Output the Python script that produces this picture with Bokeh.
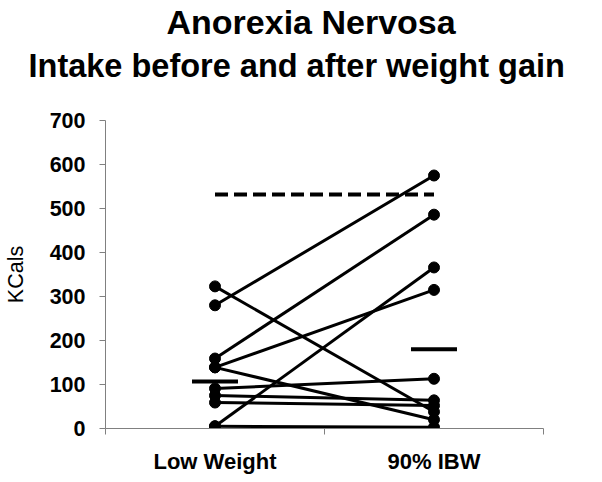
from bokeh.plotting import figure
from bokeh.models import Range1d, FixedTicker, Title
from bokeh.embed import file_html
from bokeh.resources import INLINE

# ---- data ----
categories = ["Low Weight", "90% IBW"]
low_weight = [280, 159, 5, 139, 323, 139, 91, 75, 59, 5]
ibw_90 = [575, 486, 366, 315, 38, 20, 113, 64, 52, 3]
group_means = [107, 180]
reference_intake = 532
y_ticks = [0, 100, 200, 300, 400, 500, 600, 700]
title_lines = ["Anorexia Nervosa", "Intake before and after weight gain"]

FONT = "Liberation Sans"
xpos = [i + 0.5 for i in range(len(categories))]

p = figure(
    frame_width=438, frame_height=308,
    x_range=Range1d(0, len(categories)), y_range=Range1d(0, 700),
    output_backend="svg", toolbar_location=None, title=None,
    min_border_left=105, min_border_right=43, min_border_top=0, min_border_bottom=44,
)
p.outline_line_color = None
p.grid.visible = False
p.background_fill_color = "white"
p.border_fill_color = "white"

# titles, stacked from the frame upward: spacer, line 2, line 1
spacer = Title(text=" ", text_font_size="1px", standoff=29)
t2 = Title(text=title_lines[1], align="left", offset=-77,
           text_font=FONT, text_font_size="32.5px", text_font_style="bold",
           text_color="black", standoff=10)
t1 = Title(text=title_lines[0], align="left", offset=61,
           text_font=FONT, text_font_size="34px", text_font_style="bold",
           text_color="black", standoff=0)
p.add_layout(spacer, "above")
p.add_layout(t2, "above")
p.add_layout(t1, "above")

# x axis
xa = p.xaxis[0]
xa.ticker = FixedTicker(ticks=xpos, minor_ticks=[float(i) for i in range(len(categories) + 1)])
xa.major_label_overrides = {x: c for x, c in zip(xpos, categories)}
xa.major_tick_out = 0
xa.major_tick_in = 0
xa.minor_tick_out = 6
xa.minor_tick_in = 0
xa.minor_tick_line_color = "#808080"
xa.axis_line_color = "#808080"
xa.major_label_text_font = FONT
xa.major_label_text_font_size = "22px"
xa.major_label_text_font_style = "bold"
xa.major_label_text_color = "black"
xa.major_label_standoff = 14

# y axis
ya = p.yaxis[0]
ya.ticker = FixedTicker(ticks=y_ticks, minor_ticks=[])
ya.major_tick_out = 6
ya.major_tick_in = 0
ya.major_tick_line_color = "#808080"
ya.axis_line_color = "#808080"
ya.major_label_text_font = FONT
ya.major_label_text_font_size = "21.5px"
ya.major_label_text_font_style = "bold"
ya.major_label_text_color = "black"
ya.major_label_standoff = 14
ya.axis_label = "KCals"
ya.axis_label_text_font = FONT
ya.axis_label_text_font_size = "21.5px"
ya.axis_label_text_font_style = "normal"
ya.axis_label_text_color = "black"
ya.axis_label_standoff = 19

n = len(low_weight)
# reference dashed line
p.segment(x0=[xpos[0]], y0=[reference_intake], x1=[xpos[1]], y1=[reference_intake],
          line_color="black", line_width=4, line_dash="13 6")

# paired lines
p.segment(x0=[xpos[0]] * n, y0=low_weight, x1=[xpos[1]] * n, y1=ibw_90,
          line_color="black", line_width=3)
p.scatter(x=[xpos[0]] * n, y=low_weight, size=11, color="black")
p.scatter(x=[xpos[1]] * n, y=ibw_90, size=11, color="black")

# group means
half = 0.105
p.segment(x0=[x - half for x in xpos], y0=group_means, x1=[x + half for x in xpos], y1=group_means,
          line_color="black", line_width=4)

open("out.html", "w").write(file_html(p, INLINE))
